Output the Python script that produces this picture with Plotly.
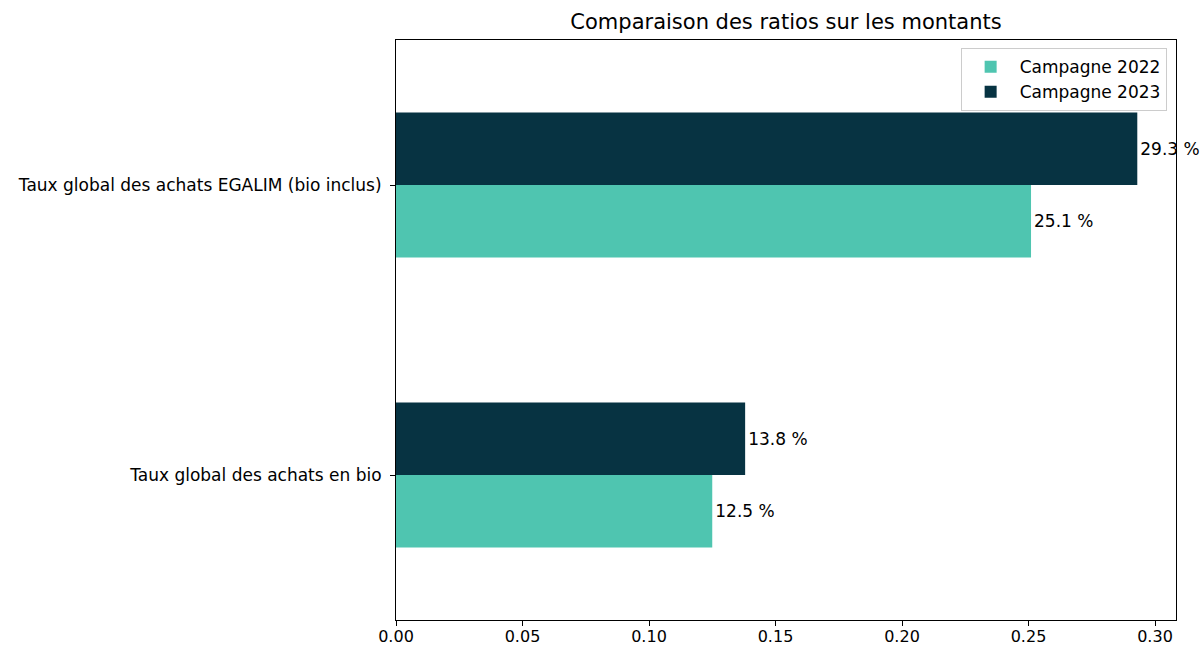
import plotly.graph_objects as go

categories = ["Taux global des achats en bio", "Taux global des achats EGALIM (bio inclus)"]
series_names = ["Campagne 2022", "Campagne 2023"]
values_2022 = [0.125, 0.251]
values_2023 = [0.138, 0.293]
colors = ["#4fc5b0", "#073342"]
title = "Comparaison des ratios sur les montants"
x_ticks = [0.0, 0.05, 0.10, 0.15, 0.20, 0.25, 0.30]

FONT = "DejaVu Sans"
FS = 17

fig = go.Figure()
for name, vals, col in zip(series_names, [values_2022, values_2023], colors):
    fig.add_trace(go.Bar(
        y=categories, x=vals, orientation="h", name=name,
        marker=dict(color=col, line=dict(width=0)),
        text=[f"{v*100:.1f} %" for v in vals],
        textposition="outside", cliponaxis=False,
        textfont=dict(family=FONT, size=FS, color="black"),
        constraintext="none",
    ))

fig.update_layout(
    width=1200, height=648,
    paper_bgcolor="white", plot_bgcolor="white",
    margin=dict(l=396, r=24, t=40, b=28, autoexpand=False),
    barmode="group", bargap=0.5, bargroupgap=0,
    font=dict(family=FONT, size=FS, color="black"),
    title=dict(text=title, x=(396 + 1176) / 2 / 1200, xanchor="center",
               y=1 - 22 / 648, yanchor="middle", automargin=False,
               font=dict(family=FONT, size=21, color="black")),
    legend=dict(x=0.988, xanchor="right", y=0.986, yanchor="top",
                bgcolor="white", bordercolor="#cccccc", borderwidth=1,
                font=dict(family=FONT, size=FS, color="black"),
                traceorder="normal", tracegroupgap=0, itemwidth=48),
    showlegend=True,
)
fig.update_xaxes(range=[0, 0.3083], tickvals=x_ticks,
                 ticktext=[f"{t:.2f}" for t in x_ticks],
                 showgrid=False, zeroline=False, automargin=False,
                 showline=True, linecolor="black", linewidth=1, mirror=True,
                 ticks="outside", ticklen=5, tickcolor="black",
                 ticklabelstandoff=-3,
                 tickfont=dict(family=FONT, size=16, color="black"))
fig.update_yaxes(range=[-0.5, 1.5], showgrid=False, zeroline=False, automargin=False,
                 showline=True, linecolor="black", linewidth=1, mirror=True,
                 ticks="outside", ticklen=5, tickcolor="black",
                 ticklabelstandoff=5,
                 tickfont=dict(family=FONT, size=FS, color="black"))

fig.write_html("out.html", config={"displayModeBar": False},
               post_script="document.body.style.margin='0';")
